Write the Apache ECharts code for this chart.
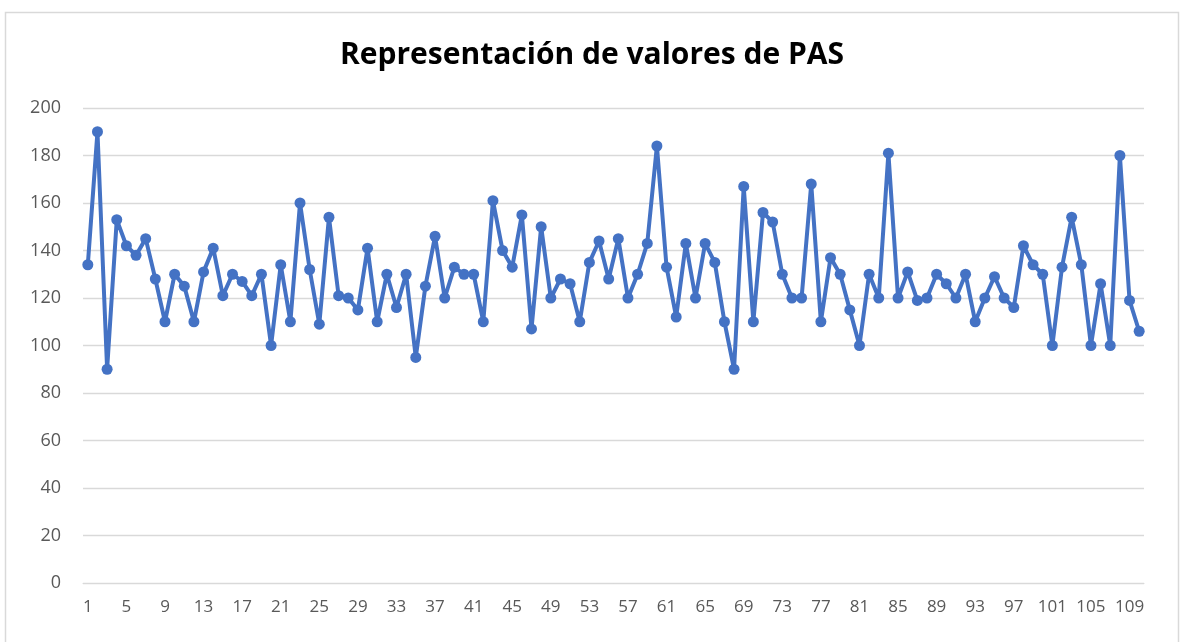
<!DOCTYPE html>
<html>
<head>
<meta charset="utf-8">
<script src="https://cdn.jsdelivr.net/npm/echarts@6/dist/echarts.min.js"></script>
<style>
  html, body { margin: 0; padding: 0; background: #fff; }
  #chart { width: 1184px; height: 642px; }
</style>
</head>
<body>
<div id="chart"></div>
<script>
// PAS values, one per patient
const pas = [
  134, 190, 90, 153, 142, 138, 145, 128, 110, 130,
  125, 110, 131, 141, 121, 130, 127, 121, 130, 100,
  134, 110, 160, 132, 109, 154, 121, 120, 115, 141,
  110, 130, 116, 130, 95, 125, 146, 120, 133, 130,
  130, 110, 161, 140, 133, 155, 107, 150, 120, 128,
  126, 110, 135, 144, 128, 145, 120, 130, 143, 184,
  133, 112, 143, 120, 143, 135, 110, 90, 167, 110,
  156, 152, 130, 120, 120, 168, 110, 137, 130, 115,
  100, 130, 120, 181, 120, 131, 119, 120, 130, 126,
  120, 130, 110, 120, 129, 120, 116, 142, 134, 130,
  100, 133, 154, 134, 100, 126, 100, 180, 119, 106
]
const categories = pas.map((_, i) => String(i + 1))
const yTicks = { min: 0, max: 200, step: 20 }

const BLUE = '#4472C4'
const GRID = '#D9D9D9'
const TEXT = '#595959'

const chart = echarts.init(document.getElementById('chart'))
chart.setOption({
  animation: false,
  title: {
    text: 'Representación de valores de PAS',
    left: 'center', top: 35,
    textStyle: { fontFamily: 'Open Sans', fontWeight: 700, fontSize: 30, color: '#000' }
  },
  graphic: [{
    type: 'rect', left: 3, top: 10,
    shape: { width: 1173, height: 640 },
    style: { fill: 'none', stroke: GRID, lineWidth: 1.5 }
  }],
  grid: { left: 83, right: 40, top: 108, bottom: 59 },
  xAxis: {
    type: 'category', data: categories, boundaryGap: true,
    axisLine: { lineStyle: { color: GRID } },
    axisTick: { show: false },
    axisLabel: { interval: 3, color: TEXT, fontSize: 17, fontFamily: 'Open Sans', margin: 16 }
  },
  yAxis: {
    type: 'value', min: yTicks.min, max: yTicks.max, interval: yTicks.step,
    axisLine: { show: false }, axisTick: { show: false },
    axisLabel: { color: TEXT, fontSize: 18, fontFamily: 'Open Sans', margin: 22 },
    splitLine: { lineStyle: { color: GRID, width: 1.3 } }
  },
  series: [{
    type: 'line', data: pas,
    lineStyle: { color: BLUE, width: 4 },
    itemStyle: { color: BLUE },
    symbol: 'circle', symbolSize: 11, showAllSymbol: true
  }]
})
</script>
</body>
</html>
